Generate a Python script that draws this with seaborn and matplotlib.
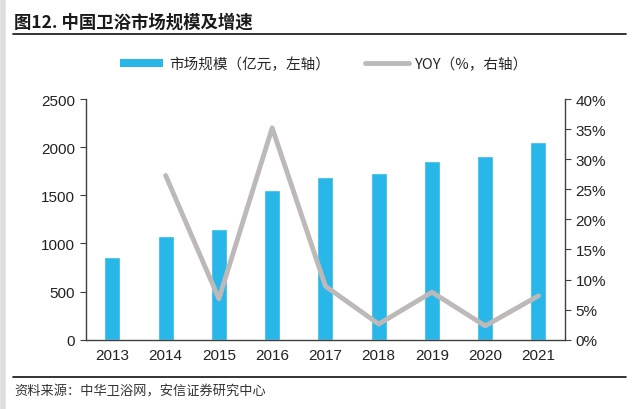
import numpy as np
import pandas as pd
import matplotlib.pyplot as plt
import seaborn as sns
from matplotlib.lines import Line2D
from matplotlib.patches import Patch
from matplotlib.ticker import FuncFormatter, FixedLocator

# 数据
years = ["2013", "2014", "2015", "2016", "2017", "2018", "2019", "2020", "2021"]
market_size = [855, 1075, 1150, 1550, 1685, 1735, 1860, 1910, 2050]  # 亿元
yoy_years = ["2014", "2015", "2016", "2017", "2018", "2019", "2020", "2021"]
yoy = [27.3, 6.8, 35.2, 8.9, 2.6, 7.9, 2.3, 7.3]  # %

sns.set_style("white")
plt.rcParams["font.family"] = ["Noto Sans CJK SC", "DejaVu Sans"]

BLUE = "#29B6E8"
GREY = "#BDB9B9"
AXC = "#404040"
NUMFONT = ["Liberation Sans Narrow", "Liberation Sans", "DejaVu Sans"]

df = pd.DataFrame({"year": years, "size": market_size})
df_yoy = pd.DataFrame({"year": yoy_years, "yoy": yoy})
df_yoy["pos"] = [years.index(y) for y in yoy_years]

fig = plt.figure(figsize=(6.4, 4.1), dpi=100)
ax = fig.add_axes([0.134, 0.169, 0.749, 0.587])

sns.barplot(data=df, x="year", y="size", color=BLUE, width=0.3,
            saturation=1, ax=ax)
ax.set_xlim(-0.5, len(years) - 0.5)
ax.set_ylim(0, 2500)
ax.set_yticks(range(0, 2501, 500))
ax.set_xlabel("")
ax.set_ylabel("")

ax2 = ax.twinx()
sns.lineplot(data=df_yoy, x="pos", y="yoy", color=GREY, linewidth=3.5,
             ax=ax2, legend=False)
ax2.set_ylim(0, 40)
ax2.set_yticks(range(0, 41, 5))
ax2.yaxis.set_major_formatter(FuncFormatter(lambda v, p: f"{v:.0f}%"))
ax2.set_xlabel("")
ax2.set_ylabel("")
ax.set_xlim(-0.5, len(years) - 0.5)

for a in (ax, ax2):
    for s in a.spines.values():
        s.set_visible(False)
ax.spines["left"].set_visible(True)
ax.spines["bottom"].set_visible(True)
ax2.spines["right"].set_visible(True)
for s in (ax.spines["left"], ax.spines["bottom"], ax2.spines["right"]):
    s.set_color(AXC)
    s.set_linewidth(1.0)

# x 轴刻度线在类别之间
ax.xaxis.set_minor_locator(FixedLocator(np.arange(-0.5, len(years), 1.0)))
ax.tick_params(axis="x", which="major", length=0, pad=6, labelsize=11, labelcolor="#222222")
ax.tick_params(axis="x", which="minor", length=4, color=AXC, direction="out")
ax.tick_params(axis="y", length=4, color=AXC, direction="out", labelsize=11, labelcolor="#222222")
ax2.tick_params(axis="y", length=4, color=AXC, direction="out", labelsize=11, labelcolor="#222222")
for lab in ax.get_xticklabels() + ax.get_yticklabels() + ax2.get_yticklabels():
    lab.set_family(NUMFONT)

# 图例
handles = [Patch(facecolor=BLUE, edgecolor="none"),
           Line2D([0], [0], color=GREY, linewidth=3.5)]
leg = fig.legend(handles, ["市场规模（亿元，左轴）", "YOY（%，右轴）"],
                 loc="center", bbox_to_anchor=(0.506, 0.842), ncol=2, frameon=False,
                 prop={"size": 10.5, "weight": "medium"}, handlelength=3.0,
                 handleheight=0.5, columnspacing=2.4, handletextpad=0.4)

# 标题与来源
fig.text(0.022, 0.945, "图12. 中国卫浴市场规模及增速", fontsize=12.5, fontweight="bold",
         color="#1a1a1a", va="center")
fig.add_artist(Line2D([0.02, 0.978], [0.915, 0.915], color="#111111", linewidth=1.2))
fig.add_artist(Line2D([0.02, 0.978], [0.078, 0.078], color="#111111", linewidth=1.2))
fig.text(0.022, 0.045, "资料来源：中华卫浴网，安信证券研究中心", fontsize=9.5,
         color="#333333", style="italic", va="center")
# 左侧灰色边条
fig.add_artist(Line2D([0.004, 0.004], [0, 1], color="#DDDDDD", linewidth=4))

fig.savefig("out.png", dpi=100)
